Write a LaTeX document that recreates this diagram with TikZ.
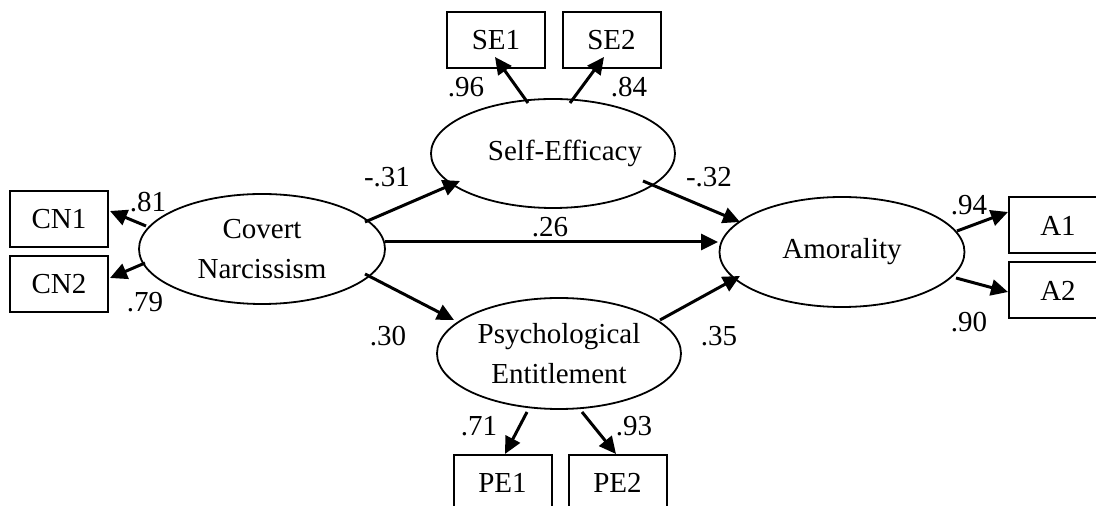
\documentclass[tikz,border=0pt]{standalone}
\usepackage{fontspec}
\setmainfont{Liberation Serif}
\usetikzlibrary{shapes.geometric,arrows.meta,calc}
\begin{document}
\begin{tikzpicture}[x=1pt,y=1pt,
  font=\fontsize{29}{40}\selectfont,
  lat/.style={ellipse,draw,line width=1.8pt,inner sep=0pt,align=center},
  obs/.style={rectangle,draw,line width=2pt,inner sep=0pt,minimum width=98pt,minimum height=56pt},
  pth/.style={line width=3pt,-{Triangle[length=17pt,width=16pt]}},
  lbl/.style={inner sep=0pt,anchor=center}]
\clip (0,0) rectangle (1096,506);
\useasboundingbox (0,0) rectangle (1096,506);
\fill[white] (0,0) rectangle (1096,506);
% latent variables
\node[lat,minimum width=246pt,minimum height=110pt] (cov) at (262,257) {Covert\\Narcissism};
\node[lat,minimum width=244pt,minimum height=109pt] (se) at (553,352.5) {\makebox[100pt]{\hspace*{24pt}Self-Efficacy}};
\node[lat,minimum width=245pt,minimum height=110pt] (amor) at (842,254) {Amorality};
\node[lat,minimum width=244pt,minimum height=111pt] (pe) at (559,152.5) {Psychological\\Entitlement};
% observed variables
\node[obs] (cn1) at (59,287) {CN1};
\node[obs] (cn2) at (59,222) {CN2};
\node[obs] (se1) at (496,465.5) {SE1};
\node[obs] (se2) at (611.5,465.5) {SE2};
\node[obs] (a1) at (1058,280.5) {A1};
\node[obs] (a2) at (1058,215.5) {A2};
\node[obs] (pe1) at (502.5,23) {PE1};
\node[obs] (pe2) at (617.5,23) {PE2};
% measurement paths
\draw[pth] ($(cov)+(-116,23)$) -- ($(cn1)+(51,8)$);
\draw[pth] ($(cov)+(-117,-14)$) -- ($(cn2)+(51,6)$);
\draw[pth] ($(se)+(-25,50.5)$) -- ($(se1)+(-1,-16.5)$);
\draw[pth] ($(se)+(17,50.5)$) -- ($(se2)+(-7.5,-16.5)$);
\draw[pth] ($(amor)+(115,21)$) -- ($(a1)+(-50,13.5)$);
\draw[pth] ($(amor)+(114,-26)$) -- ($(a2)+(-50,-1.5)$);
\draw[pth] ($(pe)+(-32,-58.5)$) -- ($(pe1)+(2.5,29)$);
\draw[pth] ($(pe)+(23,-58.5)$) -- ($(pe2)+(-1.5,29)$);
% structural paths
\draw[pth] ($(cov)+(103,27)$) -- ($(se)+(-93,-27.5)$);
\draw[pth] ($(cov)+(123,7)$) -- ($(amor)+(-124,10)$);
\draw[pth] ($(se)+(90,-27.5)$) -- ($(amor)+(-102,30)$);
\draw[pth] ($(cov)+(103,-25)$) -- ($(pe)+(-105,33.5)$);
\draw[pth] ($(pe)+(101,33.5)$) -- ($(amor)+(-102,-24)$);
% labels
\node[lbl] (l81) at (148,304) {.81};
\node[lbl] (l79) at (145,204) {.79};
\node[lbl] (l31) at (387,329) {-.31};
\node[lbl] (l32) at (709,329) {-.32};
\node[lbl] (l26) at (550,279) {.26};
\node[lbl] (l30) at (388,170) {.30};
\node[lbl] (l35) at (719,170) {.35};
\node[lbl] (l96) at (466,419) {.96};
\node[lbl] (l84) at (629,419) {.84};
\node[lbl] (l94) at (969,301) {.94};
\node[lbl] (l90) at (969,184) {.90};
\node[lbl] (l71) at (479,80) {.71};
\node[lbl] (l93) at (634,80) {.93};
\end{tikzpicture}
\end{document}
